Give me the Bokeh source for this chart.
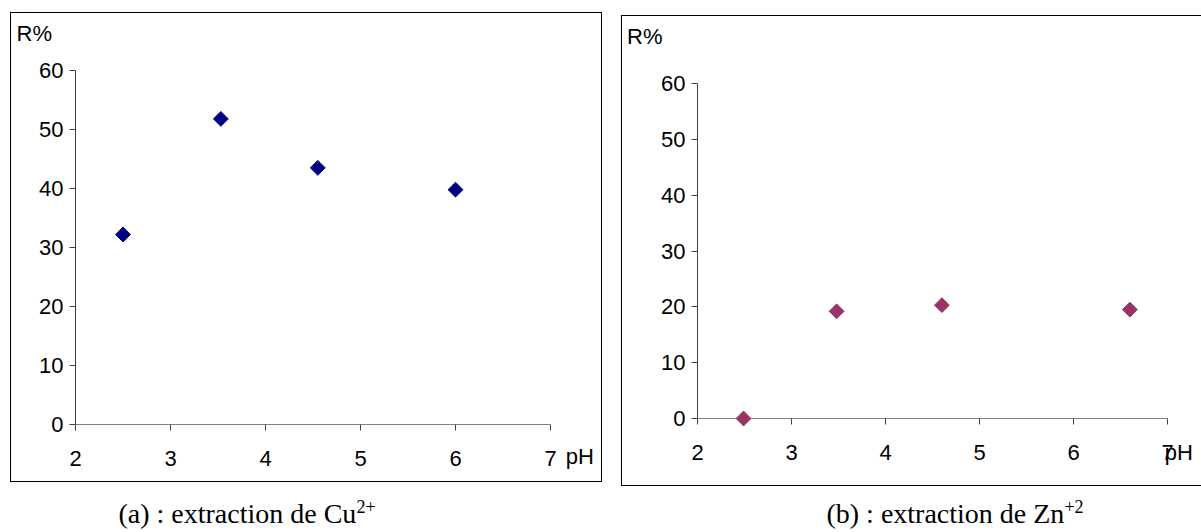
import math
from bokeh.plotting import figure
from bokeh.models import Div, Range1d, FixedTicker
from bokeh.core.properties import value
from bokeh.embed import file_html
from bokeh.resources import INLINE

# ---- data ----
ph_cu = [2.5, 3.53, 4.55, 6.0]
r_cu = [32.2, 51.8, 43.5, 39.8]
ph_zn = [2.49, 3.48, 4.6, 6.6]
r_zn = [0.0, 19.2, 20.3, 19.5]
x_ticks = [2, 3, 4, 5, 6, 7]
y_ticks = [0, 10, 20, 30, 40, 50, 60]
x_title = "pH"
y_title = "R%"
caption_a = '(a) : extraction de Cu<sup style="font-size:18px">2+</sup>'
caption_b = '(b) : extraction de Zn<sup style="font-size:18px">+2</sup>'

FONT = "Liberation Sans"
FS = "22px"


def make_panel(xs, ys, color, w, h, mbl, mbr, mbt, mbb, r_xy, ph_xy, styles):
    p = figure(width=w, height=h,
               x_range=Range1d(2, 7), y_range=Range1d(0, 60),
               output_backend="svg", toolbar_location=None,
               min_border_left=mbl, min_border_right=mbr,
               min_border_top=mbt, min_border_bottom=mbb,
               background_fill_color="white", border_fill_color="white",
               styles=styles)
    p.grid.visible = False
    p.outline_line_color = None

    p.xaxis.ticker = FixedTicker(ticks=x_ticks)
    p.yaxis.ticker = FixedTicker(ticks=y_ticks)
    for ax in (p.xaxis, p.yaxis):
        ax.minor_tick_line_color = None
        ax.major_tick_in = 0
        ax.major_tick_out = 6
        ax.major_tick_line_color = "#404040"
        ax.major_label_text_font = FONT
        ax.major_label_text_font_size = FS
        ax.major_label_text_color = "black"
    p.xaxis.axis_line_color = "#808080"
    p.yaxis.axis_line_color = "#404040"
    p.xaxis.major_label_standoff = 20
    p.yaxis.major_label_standoff = 6

    p.scatter(xs, ys, marker="square", angle=math.pi / 4, size=10.5,
              fill_color=color, line_color=color, level="overlay")

    p.text(x=[r_xy[0]], y=[r_xy[1]], text=[y_title],
           text_font=value(FONT), text_font_size=FS, text_align="left",
           text_baseline="middle", text_color="black", level="overlay")
    p.text(x=[ph_xy[0]], y=[ph_xy[1]], text=[x_title],
           text_font=value(FONT), text_font_size=FS, text_align="left",
           text_baseline="middle", text_color="black", level="overlay")
    return p


pa = make_panel(ph_cu, r_cu, "#000080", 590, 468, 64, 53, 57, 59,
                (1.38, 66.2), (7.16, -5.5),
                {"position": "absolute", "left": "10px", "top": "12px",
                 "border": "1px solid black", "box-sizing": "content-box"})

pb = make_panel(ph_zn, r_zn, "#993366", 579, 469, 75, 35, 67, 69,
                (1.25, 68.5), (6.97, -6.1),
                {"position": "absolute", "left": "621px", "top": "15px",
                 "border-top": "1px solid black",
                 "border-left": "1px solid black",
                 "border-bottom": "1px solid black",
                 "box-sizing": "content-box"})


def cap_style(left, top):
    return {"position": "absolute", "left": left, "top": top,
            "font-family": "Liberation Serif", "font-size": "28px",
            "text-align": "center", "color": "black",
            "white-space": "nowrap"}


da = Div(text=caption_a, width=400, styles=cap_style("42px", "489px"))
db = Div(text=caption_b, width=400, styles=cap_style("750px", "489px"))

open("out.html", "w").write(file_html([pa, pb, da, db], INLINE))
